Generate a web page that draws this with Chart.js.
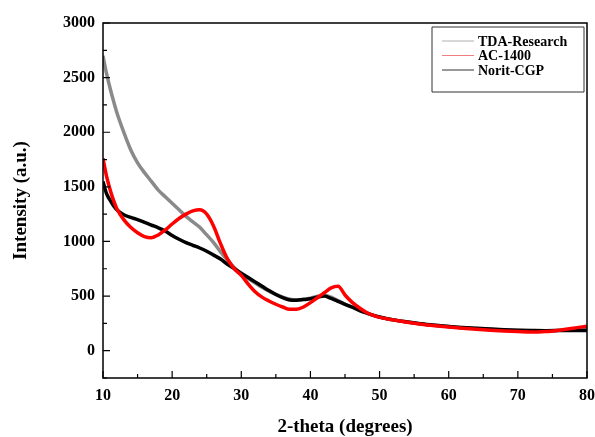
<!DOCTYPE html>
<html>
<head>
<meta charset="utf-8">
<script src="https://cdn.jsdelivr.net/npm/chart.js@4.4.1/dist/chart.umd.min.js"></script>
<style>
  html, body { margin: 0; padding: 0; background: #fff; }
  #wrap { width: 595px; height: 437px; }
</style>
</head>
<body>
<div id="wrap"><canvas id="xrd"></canvas></div>
<script>
// 2-theta positions (degrees)
const twoTheta = [10, 10.5, 11, 11.5, 12, 13, 14, 15, 16, 17, 18, 19, 20, 21, 22, 23, 24, 25, 26, 27, 28, 29, 30,
  31, 32, 33, 34, 35, 36, 37, 38, 39, 40, 41, 42, 43, 44, 45, 46, 47, 48, 49, 50,
  52, 54, 56, 58, 60, 62, 64, 66, 68, 70, 72, 74, 76, 78, 80];

const tdaResearch = [2700, 2540, 2410, 2290, 2180, 2000, 1840, 1720, 1630, 1550, 1470, 1410, 1350, 1290, 1230, 1180, 1130, 1060, 990, 905, 830, 760, 700,
  660, 620, 580, 545, 515, 490, 472, 465, 470, 480, 498, 508, 490, 458, 425, 398, 370, 346, 325, 307,
  282, 262, 245, 232, 221, 211, 203, 196, 190, 185, 182, 182, 186, 192, 200];

const ac1400 = [1760, 1600, 1480, 1380, 1300, 1200, 1130, 1080, 1045, 1035, 1060, 1105, 1160, 1210, 1250, 1280, 1290, 1250, 1140, 980, 840, 750, 690,
  610, 540, 490, 455, 425, 400, 380, 380, 400, 440, 485, 530, 575, 590, 510, 445, 395, 355, 325, 305,
  282, 260, 242, 228, 216, 205, 196, 188, 181, 175, 170, 175, 188, 205, 225];

const noritCGP = [1550, 1440, 1380, 1330, 1290, 1245, 1220, 1200, 1175, 1150, 1125, 1095, 1055, 1020, 990, 965, 940, 910, 875, 840, 790, 750, 710,
  670, 630, 590, 550, 515, 485, 465, 462, 468, 475, 490, 500, 478, 452, 425, 400, 372, 348, 326, 308,
  282, 263, 246, 233, 222, 212, 205, 198, 192, 188, 185, 183, 184, 186, 185];

const xTicks = [10, 20, 30, 40, 50, 60, 70, 80];
const xMinorTicks = [15, 25, 35, 45, 55, 65, 75];
const yTicks = [0, 500, 1000, 1500, 2000, 2500, 3000];
const yMinorTicks = [-250, 250, 750, 1250, 1750, 2250, 2750];

const serif = "'Liberation Serif', 'Times New Roman', serif";
const pts = ys => twoTheta.map((x, i) => ({ x: x, y: ys[i] }));

// inward tick marks, frame and boxed legend
const framePlugin = {
  id: 'frame',
  afterDraw(chart) {
    const ctx = chart.ctx;
    const a = chart.chartArea;
    const xs = chart.scales.x, ys = chart.scales.y;
    ctx.save();
    ctx.strokeStyle = '#000';
    ctx.lineWidth = 1.5;
    ctx.beginPath();
    ctx.rect(a.left, a.top, a.right - a.left, a.bottom - a.top);
    ctx.stroke();
    ctx.lineWidth = 1.2;
    ctx.beginPath();
    xTicks.forEach(v => { const p = xs.getPixelForValue(v); ctx.moveTo(p, a.bottom); ctx.lineTo(p, a.bottom - 7); });
    xMinorTicks.forEach(v => { const p = xs.getPixelForValue(v); ctx.moveTo(p, a.bottom); ctx.lineTo(p, a.bottom - 4); });
    yTicks.forEach(v => { const p = ys.getPixelForValue(v); ctx.moveTo(a.left, p); ctx.lineTo(a.left + 7, p); });
    yMinorTicks.forEach(v => { const p = ys.getPixelForValue(v); ctx.moveTo(a.left, p); ctx.lineTo(a.left + 4, p); });
    ctx.stroke();

    // legend box
    const bx = a.right - 155, by = a.top + 4, bw = 152, bh = 65;
    ctx.lineWidth = 1;
    ctx.strokeStyle = '#333333';
    ctx.beginPath();
    ctx.rect(bx, by, bw, bh);
    ctx.stroke();
    ctx.font = "bold 14px " + serif;
    ctx.textBaseline = 'middle';
    ctx.fillStyle = '#000';
    chart.data.datasets.forEach((ds, i) => {
      const ly = by + 14 + i * 14.5;
      ctx.strokeStyle = ds.legendColor;
      ctx.beginPath();
      ctx.moveTo(bx + 10, ly);
      ctx.lineTo(bx + 42, ly);
      ctx.stroke();
      ctx.fillText(ds.label, bx + 46, ly + 1);
    });
    ctx.restore();
  }
};

new Chart(document.getElementById('xrd'), {
  type: 'line',
  data: {
    datasets: [
      { label: 'TDA-Research', data: pts(tdaResearch), borderColor: '#8a8a8a', legendColor: '#b0b0b0', borderWidth: 3.5, order: 3 },
      { label: 'AC-1400', data: pts(ac1400), borderColor: '#ff0000', legendColor: '#f08080', borderWidth: 3.5, order: 1 },
      { label: 'Norit-CGP', data: pts(noritCGP), borderColor: '#000000', legendColor: '#333333', borderWidth: 3.5, order: 2 }
    ]
  },
  options: {
    responsive: true,
    maintainAspectRatio: false,
    animation: false,
    events: [],
    elements: { point: { radius: 0 }, line: { tension: 0.3, cubicInterpolationMode: 'monotone' } },
    layout: { padding: { left: 0, top: 23, right: 0, bottom: 0 } },
    plugins: { legend: { display: false }, tooltip: { enabled: false } },
    scales: {
      x: {
        type: 'linear',
        min: 10,
        max: 80,
        afterBuildTicks: s => { s.ticks = xTicks.map(v => ({ value: v })); },
        afterFit: s => { s.height = 59; s.paddingRight = 8; s.paddingLeft = 0; },
        grid: { display: false, drawTicks: false },
        border: { display: false },
        ticks: { color: '#000', padding: 8, maxRotation: 0, font: { family: serif, size: 16, weight: 'bold' } },
        title: { display: true, text: '2-theta (degrees)', color: '#000', padding: 0, font: { family: serif, size: 19, weight: 'bold', lineHeight: 1 } }
      },
      y: {
        min: -250,
        max: 3000,
        afterBuildTicks: s => { s.ticks = yTicks.map(v => ({ value: v })); },
        afterFit: s => { s.width = 103; },
        grid: { display: false, drawTicks: false },
        border: { display: false },
        ticks: { color: '#000', padding: 8, callback: v => String(v), font: { family: serif, size: 16, weight: 'bold' } },
        title: { display: true, text: 'Intensity (a.u.)', color: '#000', padding: { top: 12 }, font: { family: serif, size: 19, weight: 'bold', lineHeight: 1 } }
      }
    }
  },
  plugins: [framePlugin]
});
</script>
</body>
</html>
